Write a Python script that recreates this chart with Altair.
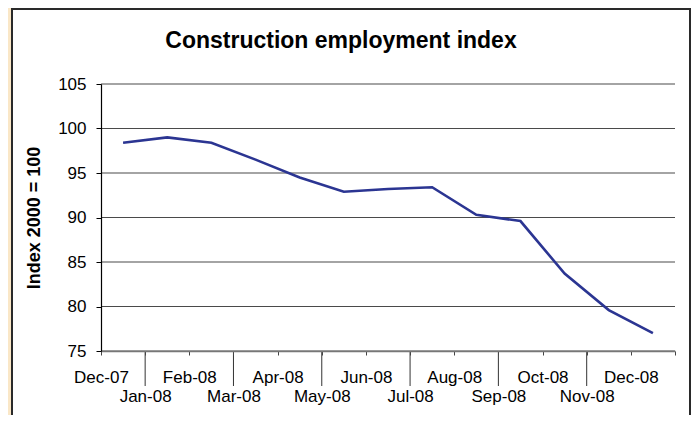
import json
import altair as alt
import pandas as pd

# ---- data ----
months = ["Dec-07", "Jan-08", "Feb-08", "Mar-08", "Apr-08", "May-08", "Jun-08",
          "Jul-08", "Aug-08", "Sep-08", "Oct-08", "Nov-08", "Dec-08"]
values = [98.4, 99.0, 98.4, 96.5, 94.5, 92.9, 93.2, 93.4, 90.3, 89.6, 83.7, 79.6, 77.0]
y_ticks = [75, 80, 85, 90, 95, 100, 105]
lower_row = ["Jan-08", "Mar-08", "May-08", "Jul-08", "Sep-08", "Nov-08"]

FONT = "Liberation Sans"
W, H = 574, 267
STEP = W / len(months)

df = pd.DataFrame({"Month": months, "Index": values})
grid_df = pd.DataFrame({"tick": y_ticks})
lower_df = pd.DataFrame({"Month": lower_row})

xscale = alt.Scale(type="band", domain=months, paddingInner=0, paddingOuter=0)
yscale = alt.Scale(domain=[75, 105], nice=False, zero=False)

label_expr = ("indexof(%s, datum.value) >= 0 ? ['', datum.label] : datum.label"
              % json.dumps(lower_row).replace('"', "'"))

# white panel behind the chart
panel = alt.Chart(pd.DataFrame({"p": [0]})).mark_rect(
    fill="white", stroke="#2a2a2a", strokeWidth=2
).encode(
    x=alt.value(-89), x2=alt.value(589), y=alt.value(-75), y2=alt.value(345)
)

grid = alt.Chart(grid_df).mark_rule(color="#4a4a4a", strokeWidth=1.2).encode(
    y=alt.Y("tick:Q", scale=yscale, axis=None)
)

long_ticks = alt.Chart(lower_df).mark_rule(color="#333", strokeWidth=1).encode(
    x=alt.X("Month:N", scale=xscale, bandPosition=0, axis=None),
    y=alt.value(H + 1),
    y2=alt.value(302),
)

line = alt.Chart(df).mark_line(color="#2B3592", strokeWidth=2.6).encode(
    x=alt.X("Month:N", scale=xscale, bandPosition=0.5,
            axis=alt.Axis(title=None, tickBand="extent", labelAngle=0,
                          labelOffset=-STEP / 2,
                          labelExpr=label_expr, labelBaseline="alphabetic",
                          labelLineHeight=19, labelPadding=27, tickSize=4,
                          tickColor="#444", domainColor="#777", domainWidth=1.5,
                          labelFont=FONT, labelFontSize=17, labelColor="black",
                          labelOverlap=False, labelFlush=False, grid=False,
                          zindex=1)),
    y=alt.Y("Index:Q", scale=yscale,
            axis=alt.Axis(title="Index 2000 = 100", values=y_ticks, grid=False,
                          tickSize=5, tickColor="black", domainColor="black",
                          domainWidth=1.2, labelFont=FONT, labelFontSize=17,
                          labelColor="black", labelPadding=10,
                          titleFont=FONT, titleFontSize=18, titleFontWeight="bold",
                          titleColor="black", titlePadding=14, zindex=1)),
)

chart = alt.layer(panel, grid, long_ticks, line).resolve_axis(
    x="independent", y="independent"
).properties(
    width=W, height=H,
    background="#FAE7C7",
    padding={"left": 93, "top": 76, "right": 16, "bottom": 64},
    autosize=alt.AutoSizeParams(type="none"),
    title=alt.TitleParams(
        text="Construction employment index", font=FONT, fontSize=23,
        fontWeight="bold", color="black", anchor="middle", frame="group",
        dx=-47, baseline="alphabetic", offset=-63,
    ),
).configure_view(stroke=None)

chart.save("out.html", embed_options={"renderer": "svg", "actions": False})
